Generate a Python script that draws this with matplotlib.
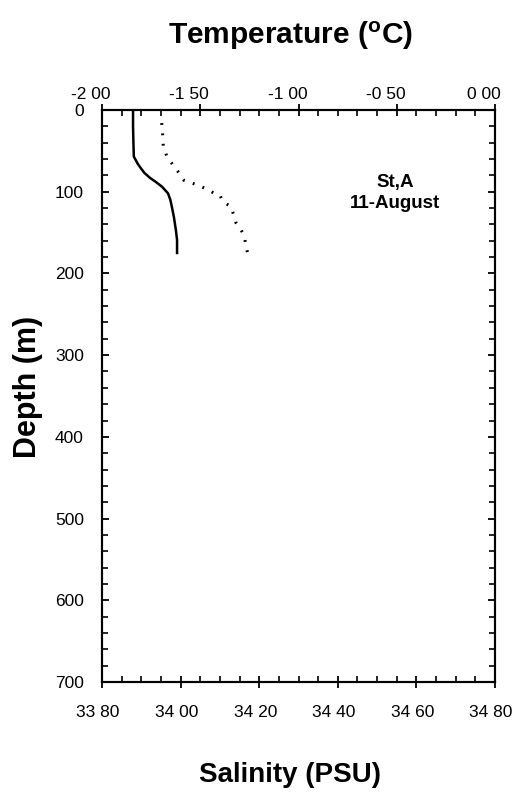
import matplotlib as mpl
mpl.use('Agg')
import matplotlib.pyplot as plt
from matplotlib.ticker import MultipleLocator, FuncFormatter
from matplotlib.transforms import ScaledTranslation

plt.rcParams['font.family'] = ['Liberation Sans', 'DejaVu Sans']

# salinity profile (solid line)
sal_depth = [2, 20, 40, 57, 65, 70, 77, 83, 88, 94, 102, 110, 119, 131, 147, 159, 175]
salinity = [33.879, 33.879, 33.880, 33.881, 33.890, 33.897, 33.908, 33.922, 33.937, 33.953,
            33.968, 33.974, 33.978, 33.983, 33.988, 33.991, 33.991]

# temperature profile (dotted line)
temp_depth = [16, 31, 45, 56, 69, 77, 86, 91, 97, 102, 104, 112, 118, 130, 138, 146, 154, 164, 175]
temperature = [-1.696, -1.691, -1.688, -1.671, -1.634, -1.608, -1.583, -1.523, -1.464, -1.429,
               -1.400, -1.386, -1.345, -1.327, -1.318, -1.294, -1.276, -1.269, -1.259]

sal_ticks = [33.8, 34.0, 34.2, 34.4, 34.6, 34.8]
temp_ticks = [-2.0, -1.5, -1.0, -0.5, 0.0]
depth_ticks = [0, 100, 200, 300, 400, 500, 600, 700]


def spaced(v, pos):
    # scanned labels show a gap where the decimal point was
    return ('%.2f' % v).replace('.', ' ')


fig = plt.figure(figsize=(5.23, 7.96), dpi=100)
ax = fig.add_axes([0.195, 0.1432, 0.7515, 0.7186])
ax2 = ax.twiny()

ax.plot(salinity, sal_depth, color='black', lw=1.8)
ax2.plot(temperature, temp_depth, color='black', lw=2.2, linestyle=(0, (0.6, 2.8)))

ax.set_xlim(33.8, 34.8)
ax.set_ylim(700, 0)
ax2.set_xlim(-2.0, 0.0)

ax.set_xticks(sal_ticks)
ax.set_yticks(depth_ticks)
ax2.set_xticks(temp_ticks)
ax.xaxis.set_minor_locator(MultipleLocator(0.05))
ax.yaxis.set_minor_locator(MultipleLocator(20))
ax2.xaxis.set_minor_locator(MultipleLocator(0.1))
ax.xaxis.set_major_formatter(FuncFormatter(spaced))
ax2.xaxis.set_major_formatter(FuncFormatter(spaced))

for a in (ax, ax2):
    for s in a.spines.values():
        s.set_linewidth(1.5)

ax.tick_params(axis='x', which='major', direction='inout', length=9, width=1.3,
               labelsize=12.5, pad=12, top=False)
ax.tick_params(axis='x', which='minor', direction='in', length=4, width=1.2, top=False)
ax.tick_params(axis='y', which='major', direction='in', length=5, width=1.3,
               labelsize=12.5, pad=13, right=True)
ax.tick_params(axis='y', which='minor', direction='in', length=4, width=1.2, right=True)
ax2.tick_params(axis='x', which='major', direction='inout', length=9, width=1.3,
                labelsize=12.5, pad=1)
ax2.tick_params(axis='x', which='minor', direction='in', length=4, width=1.2)

# labels in the scan sit a little left of their ticks
for lab in ax.get_xticklabels():
    lab.set_transform(lab.get_transform() + ScaledTranslation(-0.04, 0, fig.dpi_scale_trans))
for lab in ax2.get_xticklabels():
    lab.set_transform(lab.get_transform() + ScaledTranslation(-0.11, 0, fig.dpi_scale_trans))

ax.set_xlabel('Salinity (PSU)', fontsize=20, fontweight='bold')
ax.set_ylabel('Depth (m)', fontsize=22, fontweight='bold')
ax2.set_xlabel('Temperature ($\\mathregular{^oC}$)', fontsize=21.5, fontweight='bold')
ax.xaxis.set_label_coords(0.478, -0.14)
ax.yaxis.set_label_coords(-0.15, 0.516)
ax2.xaxis.set_label_coords(0.48, 1.116)

ax.text(0.745, 0.855, 'St,A\n11-August', transform=ax.transAxes, ha='center', va='center',
        fontsize=13.5, fontweight='bold', linespacing=1.35)

fig.savefig('out.png', dpi=100)
